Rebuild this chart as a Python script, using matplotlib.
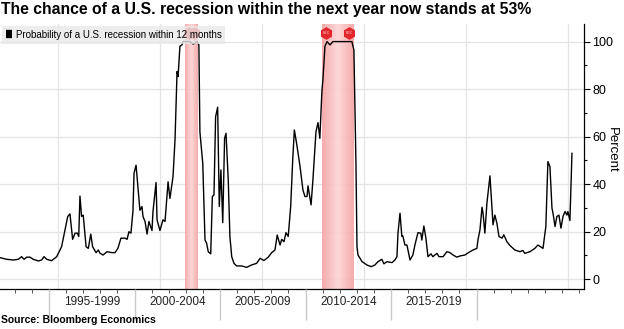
import numpy as np
import matplotlib
matplotlib.use("Agg")
import matplotlib.pyplot as plt
from matplotlib.colors import LinearSegmentedColormap

plt.rcParams["font.family"] = ["Liberation Sans", "DejaVu Sans"]

# recession probability (percent); dates as decimal years
dates = [1992.16, 1992.49, 1992.81, 1993.06, 1993.22, 1993.34, 1993.47, 1993.63, 1993.79, 1994.04,
         1994.20, 1994.32, 1994.45, 1994.69, 1994.94, 1995.18, 1995.35, 1995.48, 1995.59, 1995.72,
         1995.84, 1995.95, 1996.02, 1996.08, 1996.16, 1996.24, 1996.38, 1996.49, 1996.61, 1996.70,
         1996.87, 1996.98, 1997.06, 1997.21, 1997.41, 1997.65, 1997.80, 1997.94, 1998.09, 1998.29,
         1998.39, 1998.48, 1998.58, 1998.68, 1998.73, 1998.83, 1998.92, 1999.02, 1999.12, 1999.17,
         1999.27, 1999.37, 1999.46, 1999.61, 1999.66, 1999.81, 1999.86, 2000.00, 2000.15, 2000.25,
         2000.40, 2000.49, 2000.64, 2000.74, 2000.84, 2000.89, 2000.98, 2001.08, 2001.13, 2001.47,
         2001.62, 2001.72, 2001.82, 2001.91, 2001.96, 2002.10, 2002.21, 2002.29, 2002.37, 2002.49,
         2002.57, 2002.65, 2002.73, 2002.83, 2002.91, 2002.99, 2003.08, 2003.17, 2003.24, 2003.35,
         2003.43, 2003.52, 2003.63, 2003.76, 2004.01, 2004.25, 2004.49, 2004.74, 2004.91, 2005.10,
         2005.31, 2005.48, 2005.64, 2005.75, 2005.89, 2005.97, 2006.08, 2006.18, 2006.29, 2006.41,
         2006.51, 2006.59, 2006.70, 2006.87, 2007.01, 2007.11, 2007.21, 2007.26, 2007.41, 2007.50,
         2007.65, 2007.75, 2007.84, 2007.94, 2007.99, 2008.09, 2008.19, 2008.34, 2008.48, 2009.41,
         2009.51, 2009.61, 2009.66, 2009.71, 2009.91, 2010.15, 2010.35, 2010.54, 2010.69, 2010.88,
         2010.98, 2011.13, 2011.38, 2011.52, 2011.62, 2011.67, 2011.77, 2011.86, 2011.91, 2012.01,
         2012.11, 2012.26, 2012.40, 2012.50, 2012.65, 2012.79, 2012.84, 2012.94, 2013.04, 2013.14,
         2013.29, 2013.38, 2013.58, 2013.68, 2013.88, 2014.07, 2014.22, 2014.37, 2014.56, 2014.71,
         2014.95, 2015.20, 2015.35, 2015.54, 2015.59, 2015.69, 2015.79, 2015.84, 2015.93, 2016.03,
         2016.18, 2016.33, 2016.42, 2016.52, 2016.62, 2016.77, 2016.86, 2017.01, 2017.16, 2017.40,
         2017.65, 2017.79, 2017.89, 2018.14, 2018.38, 2018.53, 2018.78, 2018.92, 2019.02, 2019.12,
         2019.22, 2019.27, 2019.37, 2019.46, 2019.56, 2019.66, 2019.76, 2019.86, 2019.95, 2020.00,
         2020.10, 2020.20]
prob = [9.1, 8.4, 8.1, 8.4, 9.5, 8.4, 9.3, 9.3, 8.4, 7.7,
        8.1, 9.5, 8.4, 7.8, 9.5, 13.7, 20.8, 26.4, 27.5, 16.8,
        19.4, 19.4, 18.0, 35.0, 26.4, 27.0, 13.7, 13.0, 19.0, 13.7,
        11.2, 12.3, 11.0, 10.2, 11.6, 11.2, 11.2, 13.0, 17.3, 17.3,
        16.8, 20.0, 19.4, 29.0, 44.6, 48.0, 39.0, 29.0, 30.6, 26.4,
        24.3, 19.0, 24.3, 20.5, 28.5, 40.7, 25.0, 20.5, 25.0, 24.3,
        41.0, 34.0, 43.0, 58.6, 87.4, 85.3, 98.0, 98.6, 100.0, 100.0,
        99.0, 99.3, 100.0, 98.6, 62.0, 48.8, 16.5, 15.1, 11.6, 10.7,
        34.8, 35.5, 68.4, 72.4, 30.6, 46.0, 23.8, 59.3, 61.4, 41.8,
        18.0, 9.5, 6.7, 5.6, 5.6, 5.0, 6.0, 6.7, 8.8, 7.9,
        9.3, 11.2, 12.3, 18.6, 14.4, 16.8, 15.8, 19.6, 18.0, 30.6,
        50.2, 62.8, 57.2, 47.4, 37.6, 34.8, 34.8, 39.3, 31.3, 41.8,
        62.1, 65.9, 59.3, 79.0, 84.0, 98.0, 100.0, 98.6, 100.0, 100.0,
        96.5, 48.8, 13.7, 10.2, 7.4, 6.0, 5.3, 6.0, 7.4, 8.4,
        6.5, 7.4, 7.0, 8.1, 9.5, 19.4, 27.8, 18.0, 18.2, 14.4,
        14.4, 8.1, 10.2, 14.4, 19.6, 19.4, 16.5, 22.4, 17.3, 9.5,
        10.7, 9.5, 10.9, 9.5, 9.5, 11.6, 11.2, 10.2, 9.3, 9.8,
        10.2, 11.6, 12.3, 13.0, 16.5, 20.8, 30.3, 27.8, 19.4, 32.0,
        43.5, 22.9, 27.0, 23.6, 18.0, 17.3, 18.7, 15.8, 14.2, 12.3,
        11.6, 12.1, 10.9, 11.6, 13.0, 14.4, 13.0, 22.2, 49.5, 47.4,
        29.9, 27.8, 22.2, 26.4, 27.0, 21.5, 26.4, 28.5, 27.0, 28.5,
        24.7, 53.0]

recessions = [(2001.25, 2001.88), (2007.95, 2009.47)]
period_labels = ["1995-1999", "2000-2004", "2005-2009", "2010-2014", "2015-2019"]
period_starts = [1995, 2000, 2005, 2010, 2015]

fig = plt.figure(figsize=(6.24, 3.29), dpi=100)
ax = fig.add_axes([0, 40 / 329, 584 / 624, 265 / 329])

# recession bands with a soft centre
cmap = LinearSegmentedColormap.from_list("rec", ["#f6a3a3", "#fcd4d4", "#f6a3a3"])
grad = np.linspace(0, 1, 64).reshape(1, -1)
for a, b in recessions:
    ax.imshow(grad, extent=(a, b, -4.1, 107.4), aspect="auto", cmap=cmap,
              zorder=1, alpha=0.9)
ax.set_xlim(1992.16, 2020.79)
ax.set_ylim(-4.1, 107.4)

ax.grid(True, color="#e4e4e4", lw=0.9, zorder=0)
ax.set_axisbelow(True)
ax.set_xticks(np.arange(1995, 2021, 5))
ax.tick_params(axis="x", length=0, labelbottom=False)

ax.plot(dates, prob, color="black", lw=1.0, zorder=3,
        label="Probability of a U.S. recession within 12 months")

# REC badges at the top of each band (the first pair sits under the legend)
for i, (a, b) in enumerate(recessions):
    for xm in (a + 0.2, b - 0.2):
        ax.plot(xm, 103.6, marker="h", ms=8, color="#e3262b", zorder=4)
        if i > 0:
            ax.text(xm, 103.6, "REC", fontsize=2.5, color="#ffd0d0",
                    ha="center", va="center", zorder=5)

ax.yaxis.tick_right()
ax.set_yticks(np.arange(0, 101, 20))
ax.set_yticks(np.arange(10, 101, 20), minor=True)
ax.tick_params(axis="y", which="major", length=4, width=0.8, labelsize=9, pad=2)
ax.tick_params(axis="y", which="minor", length=2.5, width=0.8)
for s in ("top", "left"):
    ax.spines[s].set_visible(False)
ax.spines["right"].set_linewidth(0.9)
ax.spines["bottom"].set_linewidth(0.9)
fig.text(612 / 624, 0.545, "Percent", rotation=270, fontsize=9.5,
         ha="center", va="center")

leg = ax.legend(loc="upper left", bbox_to_anchor=(0, 1.0), frameon=True,
                fancybox=False, facecolor="#e9e9e9", edgecolor="none",
                framealpha=0.8, fontsize=7, handlelength=0.6, handletextpad=0.4,
                borderpad=0.4, borderaxespad=0.2)
for h in leg.get_lines():
    h.set_linewidth(6)
    h.set_solid_capstyle("butt")
leg.set_zorder(6)

# period band underneath the axis
lab = ax.twiny()
lab.set_xlim(1992.13, 1992.13 + 584 / 17.1)
lab.xaxis.set_ticks_position("bottom")
for s in lab.spines.values():
    s.set_visible(False)
lab.set_xticks(np.arange(1995, 2021, 5))
lab.set_xticks(np.arange(1993, 2027, 1), minor=True)
lab.tick_params(axis="x", which="major", length=22, color="#c9c9c9", width=1.0,
                labelbottom=False, labeltop=False)
lab.tick_params(axis="x", which="minor", length=3, color="#555555", width=0.7)
for yr, txt in zip(period_starts, period_labels):
    lab.text(yr + 2.5, -0.05, txt, transform=lab.get_xaxis_transform(),
             ha="center", va="center", fontsize=8.5, color="#222222")

fig.text(0.002, 0.995, "The chance of a U.S. recession within the next year now stands at 53%",
         ha="left", va="top", fontsize=11.3, fontweight="bold")
fig.text(0.002, 0.012, "Source: Bloomberg Economics", ha="left", va="bottom",
         fontsize=7.5, fontweight="bold")

fig.savefig("out.png", dpi=100)
